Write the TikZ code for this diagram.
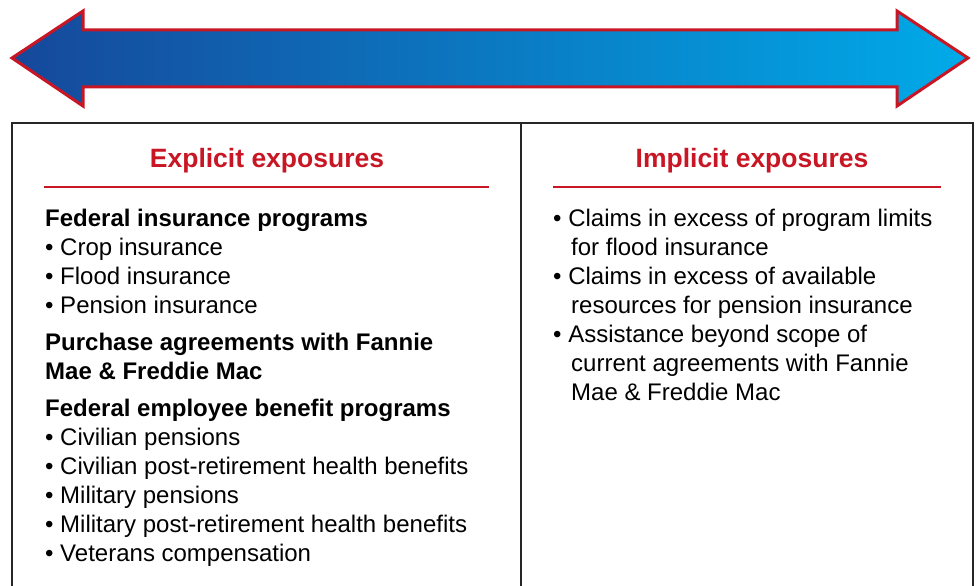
\documentclass[tikz,border=0pt]{standalone}
\usepackage{fontspec}
\setmainfont{Liberation Sans}
\usetikzlibrary{positioning}
\definecolor{expred}{RGB}{200,22,36}
\definecolor{arrowdark}{RGB}{22,72,155}
\definecolor{arrowlight}{RGB}{0,170,232}
\tikzset {
  % big two-headed arrow
  scale arrow/.style = {
    draw = expred,
    line width = 3pt,
    line join = miter,
    left color = arrowdark,
    right color = arrowlight
  },
  frame/.style = {
    draw = black!85,
    line width = 1.2pt
  },
  % column headings
  heading/.style = {
    font = \fontsize{26.5}{30}\selectfont\bfseries,
    text = expred,
    anchor = base,
    inner sep = 0
  },
  rule/.style = {
    draw = expred,
    line width = 2pt
  },
  group/.style = {
    font = \fontsize{24}{29}\selectfont\bfseries,
    anchor = base west,
    inner sep = 0
  },
  item/.style = {
    font = \fontsize{24}{29}\selectfont,
    anchor = base west,
    inner sep = 0
  }
}
\begin{document}
\begin{tikzpicture}[x=1pt, y=-1pt]
  \useasboundingbox (0,0) rectangle (978,586);

  \shadedraw[scale arrow] (12,58) -- (83,11) -- (83,30) -- (897,30)
    -- (897,11) -- (968,58) -- (897,106) -- (897,87) -- (83,87)
    -- (83,106) -- cycle;

  \draw[frame] (12,600) |- (973,123) -- (973,600);
  \draw[frame] (521,123) -- (521,600);

  % left column
  \node[heading] (explicit) at (267,167) {Explicit exposures};
  \draw[rule] (44,187) -- (489,187);

  \node[group] (insurance) at (45,226) {Federal insurance programs};
  \node[item] (crop) at (45,255) {• Crop insurance};
  \node[item] (flood) at (45,284) {• Flood insurance};
  \node[item] (pension) at (45,313) {• Pension insurance};
  \node[group] (purchase) at (45,350) {Purchase agreements with Fannie};
  \node[group] (purchase-2) at (45,379) {Mae \& Freddie Mac};
  \node[group] (employee) at (45,416) {Federal employee benefit programs};
  \node[item] (civ-pen) at (45,445) {• Civilian pensions};
  \node[item] (civ-health) at (45,474) {• Civilian post-retirement health benefits};
  \node[item] (mil-pen) at (45,503) {• Military pensions};
  \node[item] (mil-health) at (45,532) {• Military post-retirement health benefits};
  \node[item] (veterans) at (45,561) {• Veterans compensation};

  % right column
  \node[heading] (implicit) at (752,167) {Implicit exposures};
  \draw[rule] (553,187) -- (941,187);

  \node[item] (limits) at (553,226) {• Claims in excess of program limits};
  \node[item] (limits-2) at (571,255) {for flood insurance};
  \node[item] (resources) at (553,284) {• Claims in excess of available};
  \node[item] (resources-2) at (571,313) {resources for pension insurance};
  \node[item] (beyond) at (553,342) {• Assistance beyond scope of};
  \node[item] (beyond-2) at (571,371) {current agreements with Fannie};
  \node[item] (beyond-3) at (571,400) {Mae \& Freddie Mac};
\end{tikzpicture}
\end{document}
